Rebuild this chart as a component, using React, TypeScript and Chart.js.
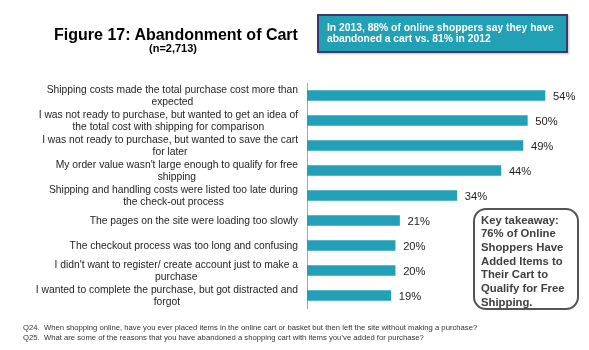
import React, { useEffect, useRef } from "react";
import { Chart, registerables } from "chart.js";

Chart.register(...registerables);

// ---- data ----
const categories: string[][] = [
  ["Shipping costs made the total purchase cost more than", "expected"],
  ["I was not ready to purchase, but wanted to get an idea of", "the total cost with shipping for comparison"],
  ["I was not ready to purchase, but wanted to save the cart", "for later"],
  ["My order value wasn't large enough to qualify for free", "shipping"],
  ["Shipping and handling costs were listed too late during", "the check-out process"],
  ["The pages on the site were loading too slowly"],
  ["The checkout process was too long and confusing"],
  ["I didn't want to register/ create account just to make a", "purchase"],
  ["I wanted to complete the purchase, but got distracted and", "forgot"],
];
const values: number[] = [54, 50, 49, 44, 34, 21, 20, 20, 19];
const titleText = "Figure 17: Abandonment of Cart";
const subtitleText = "(n=2,713)";
const calloutLines: string[] = [
  "In 2013, 88% of online shoppers say they have",
  "abandoned a cart vs. 81% in 2012",
];
const takeawayLines: string[] = [
  "Key takeaway:",
  "76% of Online",
  "Shoppers Have",
  "Added Items to",
  "Their Cart to",
  "Qualify for Free",
  "Shipping.",
];
const footnoteLines: string[] = [
  "Q24.  When shopping online, have you ever placed items in the online cart or basket but then left the site without making a purchase?",
  "Q25.  What are some of the reasons that you have abandoned a shopping cart with items you\u2019ve added for purchase?",
];

const FONT = '"Liberation Sans", Arial, Helvetica, sans-serif';
const BAR = "#22a0b7";

const labelPlugin = {
  id: "customLabels",
  afterDraw(chart: any) {
    const ctx = chart.ctx;
    const yScale = chart.scales.y;
    ctx.save();
    // category labels: block right-aligned, lines centered within block
    ctx.font = `10.3px ${FONT}`;
    ctx.fillStyle = "#1e1e1e";
    ctx.textAlign = "center";
    ctx.textBaseline = "middle";
    const rightEdge = yScale.right - 9;
    const lh = 11.6;
    categories.forEach((lines, i) => {
      const yc = yScale.getPixelForValue(i) + 0.6;
      const maxW = Math.max(...lines.map((l) => ctx.measureText(l).width));
      const cx = rightEdge - maxW / 2;
      lines.forEach((l, k) => {
        ctx.fillText(l, cx, yc - ((lines.length - 1) * lh) / 2 + k * lh);
      });
    });
    // value labels
    ctx.font = `11.2px ${FONT}`;
    ctx.fillStyle = "#1e1e1e";
    ctx.textAlign = "left";
    const meta = chart.getDatasetMeta(0);
    meta.data.forEach((el: any, i: number) => {
      ctx.fillText(`${values[i]}%`, el.x + 8, el.y + 1);
    });
    ctx.restore();
  },
};

export default function App() {
  const ref = useRef<HTMLCanvasElement | null>(null);
  useEffect(() => {
    if (!ref.current) return;
    const chart = new Chart(ref.current, {
      type: "bar",
      data: {
        labels: categories.map((c) => c.join(" ")),
        datasets: [
          {
            data: values,
            backgroundColor: BAR,
            borderWidth: 0,
            barThickness: 10,
          },
        ],
      },
      options: {
        indexAxis: "y",
        responsive: false,
        animation: false,
        devicePixelRatio: 1,
        layout: { padding: { left: 0, top: 83, right: 17.6, bottom: 42 } },
        plugins: {
          legend: { display: false },
          tooltip: { enabled: false },
          title: { display: false },
        },
        scales: {
          x: { display: false, min: 0, max: 60 },
          y: {
            grid: { display: false, drawTicks: false },
            border: { display: true, color: "#a8a8a8", width: 1 },
            ticks: { display: false },
            afterFit: (s: any) => {
              s.width = 307;
            },
          },
        },
      } as any,
      plugins: [labelPlugin],
    });
    return () => chart.destroy();
  }, []);

  return (
    <div style={{ position: "absolute", left: 0, top: 0, width: 589, height: 350, background: "#fff", fontFamily: FONT }}>
      <canvas ref={ref} width={589} height={350} style={{ position: "absolute", left: 0, top: 0, width: 589, height: 350 }} />
      <div style={{ position: "absolute", left: 0, width: 352, top: 26.5, textAlign: "center", fontSize: 16, lineHeight: "16px", fontWeight: "bold", color: "#000" }}>
        {titleText}
      </div>
      <div style={{ position: "absolute", left: 0, width: 346, top: 43.4, textAlign: "center", fontSize: 11, lineHeight: "11px", fontWeight: "bold", color: "#000" }}>
        {subtitleText}
      </div>
      <div style={{ position: "absolute", left: 317, top: 14, width: 251, height: 39, boxSizing: "border-box", background: "#22a0b5", border: "2px solid #3e3a66", boxShadow: "1px 1px 2px rgba(0,0,0,0.25)", padding: "5.5px 0 0 8px", color: "#fff", fontWeight: "bold", fontSize: 10.3, lineHeight: "11px" }}>
        {calloutLines.map((l, i) => (
          <div key={i} style={{ whiteSpace: "nowrap" }}>{l}</div>
        ))}
      </div>
      <div style={{ position: "absolute", left: 473, top: 208, width: 106, height: 102, boxSizing: "border-box", border: "2px solid #555", borderRadius: 13, background: "#fff", padding: "3.5px 0 0 6px", color: "#404040", fontWeight: "bold", fontSize: 11.3, lineHeight: "13.7px" }}>
        {takeawayLines.map((l, i) => (
          <div key={i} style={{ whiteSpace: "nowrap" }}>{l}</div>
        ))}
      </div>
      <div style={{ position: "absolute", left: 23, top: 323, fontSize: 7.7, lineHeight: "10px", color: "#333" }}>
        {footnoteLines.map((l, i) => (
          <div key={i} style={{ whiteSpace: "pre" }}>{l}</div>
        ))}
      </div>
    </div>
  );
}
